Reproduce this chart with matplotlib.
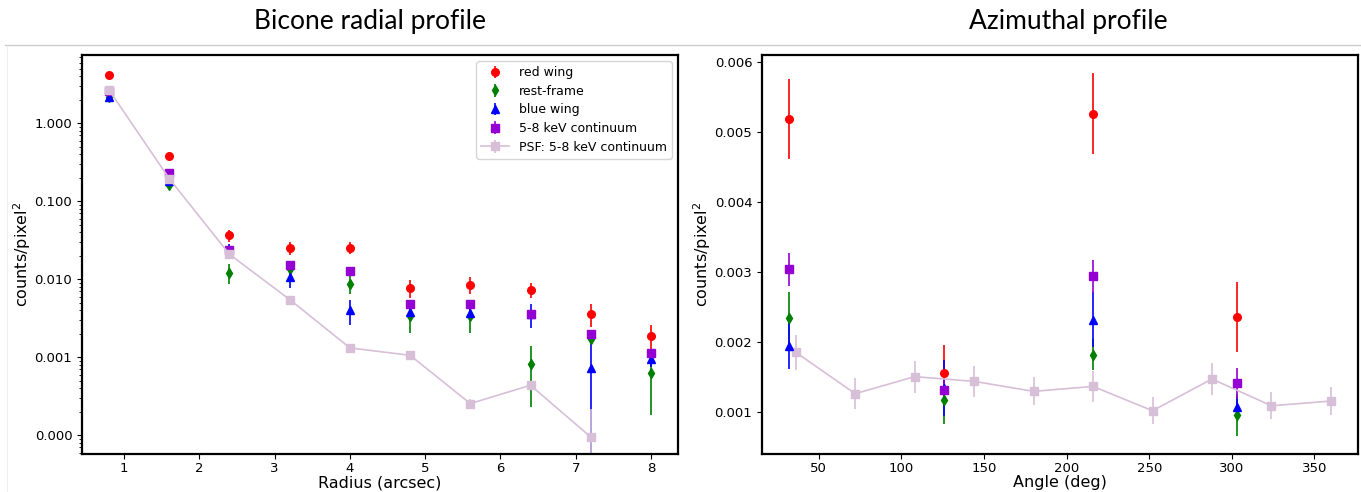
import numpy as np
import matplotlib.pyplot as plt
from matplotlib.ticker import FormatStrFormatter
from matplotlib.lines import Line2D

# radial profile (bicone)
radius = [0.8, 1.6, 2.4, 3.2, 4.0, 4.8, 5.6, 6.4, 7.2, 8.0]
rad_red = [4.2, 0.38, 0.0366, 0.0252, 0.0255, 0.00774, 0.00855, 0.00738, 0.00363, 0.00188]
rad_red_err = [0.25, 0.03, 0.0066, 0.005, 0.0045, 0.002, 0.002, 0.0016, 0.0012, 0.0007]
rad_rest = [2.15, 0.164, 0.0122, 0.0137, 0.0088, 0.00336, 0.00336, 0.00081, 0.00174, 0.00062]
rad_rest_err = [0.1, 0.012, 0.0036, 0.0025, 0.0023, 0.0013, 0.0013, 0.00058, 0.0003, 0.00044]
rad_blue = [2.17, 0.18, 0.024, 0.0107, 0.0040, 0.0038, 0.0037, 0.0036, 0.00072, 0.00094]
rad_blue_err = [0.1, 0.015, 0.004, 0.003, 0.0014, 0.0005, 0.0005, 0.0012, 0.0011, 0.0002]
rad_cont = [2.6, 0.233, 0.0236, 0.0154, 0.0126, 0.00482, 0.00482, 0.00363, 0.00196, 0.00115]
rad_cont_err = [0.08, 0.01, 0.0015, 0.001, 0.0008, 0.0003, 0.0003, 0.0002, 0.0001, 0.0001]
rad_psf = [2.67, 0.195, 0.0209, 0.0055, 0.00132, 0.00106, 0.000255, 0.000438, 0.000095, np.nan]
rad_psf_err = [0.05, 0.005, 0.0008, 0.0003, 0.0001, 0.0001, 0.00004, 0.00005, 0.00012, np.nan]

# azimuthal profile
angle = [32, 126, 216, 303]
az_red = [0.00519, 0.00156, 0.005265, 0.002357]
az_red_err = [0.00057, 0.0004, 0.00058, 0.0005]
az_rest = [0.00234, 0.00117, 0.00182, 0.00096]
az_rest_err = [0.00038, 0.00034, 0.00022, 0.0003]
az_blue = [0.00195, 0.00135, 0.00232, 0.00107]
az_blue_err = [0.00033, 0.0004, 0.00039, 0.00015]
az_cont = [0.00304, 0.00132, 0.00294, 0.00141]
az_cont_err = [0.00024, 0.0002, 0.00024, 0.00022]
psf_angle = [36, 72, 108, 144, 180, 216, 252, 288, 324, 360]
az_psf = [0.001855, 0.001263, 0.001506, 0.001439, 0.001296, 0.001367, 0.001019, 0.001473, 0.00109, 0.001158]
az_psf_err = [0.00025, 0.00022, 0.00023, 0.00022, 0.0002, 0.00022, 0.00019, 0.00023, 0.00019, 0.0002]

labels = ['red wing', 'rest-frame', 'blue wing', '5-8 keV continuum', 'PSF: 5-8 keV continuum']
colors = ['red', 'green', 'blue', 'darkviolet', 'thistle']
markers = ['o', 'd', '^', 's', 's']

W, H = 1361, 492
fig = plt.figure(figsize=(W/100, H/100), dpi=100)

def box(x0, y0, x1, y1):
    return [x0/W, 1-y1/H, (x1-x0)/W, (y1-y0)/H]

ax1 = fig.add_axes(box(82, 55, 678, 454))
ax2 = fig.add_axes(box(762, 55, 1358, 454))

rad_sets = [(rad_red, rad_red_err), (rad_rest, rad_rest_err), (rad_blue, rad_blue_err),
            (rad_cont, rad_cont_err)]
for (y, e), lab, c, m in zip(rad_sets, labels, colors, markers):
    ax1.errorbar(radius, y, yerr=e, fmt=m, color=c, ms=5.5, elinewidth=1.2, label=lab)
ax1.errorbar(radius, rad_psf, yerr=rad_psf_err, fmt='s-', color=colors[4], ms=6,
             lw=1.2, elinewidth=1.2, label=labels[4])
ax1.set_yscale('log')
ax1.set_ylim(10**-4.24, 10**0.876)
ax1.yaxis.set_major_formatter(FormatStrFormatter('%.3f'))
ax1.set_xlabel('Radius (arcsec)', fontsize=11.5, labelpad=0)
ax1.set_ylabel('counts/pixel$^2$', fontsize=11.5, labelpad=1)
ax1.legend(loc='upper right', fontsize=9, handlelength=2.2, borderpad=0.4,
           labelspacing=0.45, framealpha=0.8)

az_sets = [(az_red, az_red_err), (az_rest, az_rest_err), (az_blue, az_blue_err),
           (az_cont, az_cont_err)]
ax2.errorbar(psf_angle, az_psf, yerr=az_psf_err, fmt='s-', color=colors[4], ms=6,
             lw=1.2, elinewidth=1.2)
for (y, e), c, m in zip(az_sets, colors, markers):
    ax2.errorbar(angle, y, yerr=e, fmt=m, color=c, ms=5.5, elinewidth=1.2)
ax2.set_xlabel('Angle (deg)', fontsize=11.5, labelpad=0)
ax2.set_ylabel('counts/pixel$^2$', fontsize=11.5, labelpad=1)
ax2.yaxis.set_major_formatter(FormatStrFormatter('%.3f'))

for ax in (ax1, ax2):
    ax.tick_params(labelsize=9.5)
    ax.tick_params(axis='x', pad=2.5)
    for s in ax.spines.values():
        s.set_linewidth(1.6)

fig.text(370/W, 1-22/H, 'Bicone radial profile', ha='center', va='center',
         fontsize=19, family='Lato')
fig.text(1068/W, 1-22/H, 'Azimuthal profile', ha='center', va='center',
         fontsize=19, family='Lato')
fig.add_artist(Line2D([5/W, 1], [1-45/H, 1-45/H], color='#cccccc', lw=1))
fig.add_artist(Line2D([7/W, 7/W], [0, 1-46/H], color='#f0f0f0', lw=0.8))

fig.savefig('out.png', dpi=100)
